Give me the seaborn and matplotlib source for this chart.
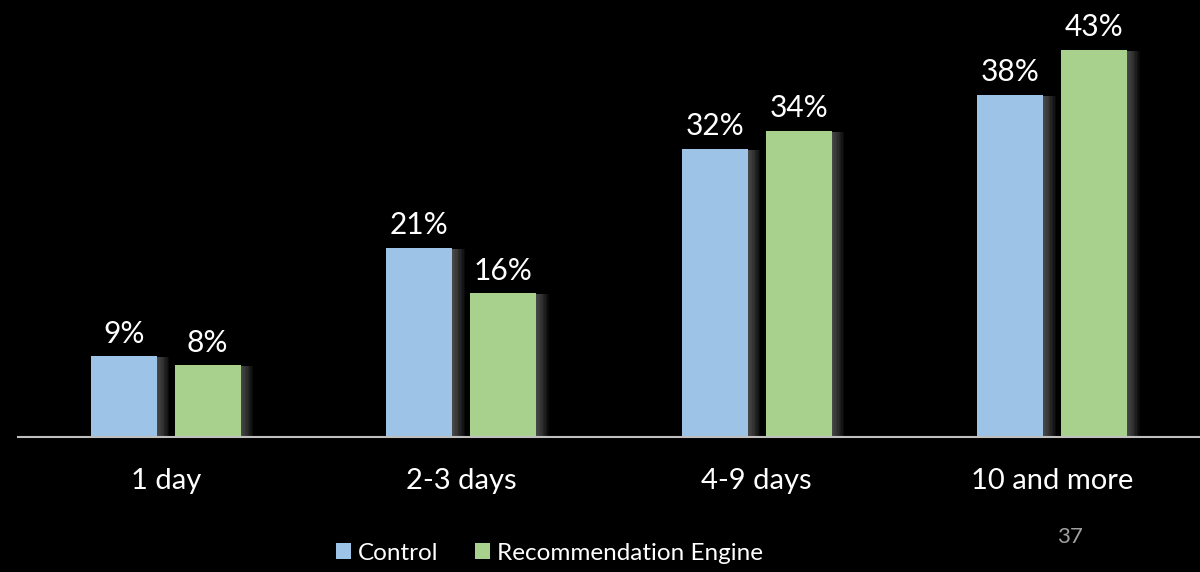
import matplotlib
matplotlib.use("Agg")
import matplotlib.pyplot as plt
import matplotlib.patheffects as pe
from matplotlib.patches import Patch
import seaborn as sns
import pandas as pd

categories = ["1 day", "2-3 days", "4-9 days", "10 and more"]
control = [9, 21, 32, 38]
recommendation = [8, 16, 34, 43]
series_names = ["Control", "Recommendation Engine"]
colors = ["#9DC3E6", "#A9D18E"]

df = pd.DataFrame({
    "category": categories * 2,
    "value": control + recommendation,
    "series": [series_names[0]] * len(categories) + [series_names[1]] * len(categories),
})

sns.set_style("dark")
plt.rcParams["font.family"] = ["Lato", "DejaVu Sans"]

fig = plt.figure(figsize=(12, 5.72), dpi=100, facecolor="black")
ax = fig.add_axes([0.015, 0.236, 0.985, 0.764])
ax.set_facecolor("black")

sns.barplot(data=df, x="category", y="value", hue="series", order=categories,
            hue_order=series_names, palette=colors, width=0.566, gap=0.21,
            ax=ax, legend=False, saturation=1)

shadow = [pe.SimplePatchShadow(offset=(o, -1), shadow_rgbFace="#9a9a9a", alpha=0.07)
          for o in range(9, 0, -1)]
for cont in ax.containers:
    for bar in cont:
        bar.set_path_effects(shadow + [pe.Normal()])
        bar.set_edgecolor("none")
    ax.bar_label(cont, labels=[f"{int(v)}%" for v in cont.datavalues], padding=6,
                 color="white", fontsize=21.5)

ax.set_xlim(-0.5, 3.5)
ax.set_ylim(0, 48.5)
ax.set_xlabel("")
ax.set_ylabel("")
ax.set_yticks([])
ax.grid(False)
for s in ["top", "right", "left"]:
    ax.spines[s].set_visible(False)
ax.spines["bottom"].set_color("#bfbfbf")
ax.spines["bottom"].set_linewidth(1.5)
ax.tick_params(axis="x", length=0, colors="white", labelsize=21, pad=22)

handles = [Patch(facecolor=c, edgecolor="none") for c in colors]
fig.legend(handles, series_names, loc="center", bbox_to_anchor=(0.458, 0.033),
           ncol=2, frameon=False, fontsize=17.5, labelcolor="white",
           handlelength=0.6, handleheight=0.6, handletextpad=0.3, columnspacing=1.5)

fig.text(0.892, 0.062, "37", color="#a0a0a0", fontsize=16, ha="center", va="center")

fig.savefig("out.png", dpi=100, facecolor="black")
